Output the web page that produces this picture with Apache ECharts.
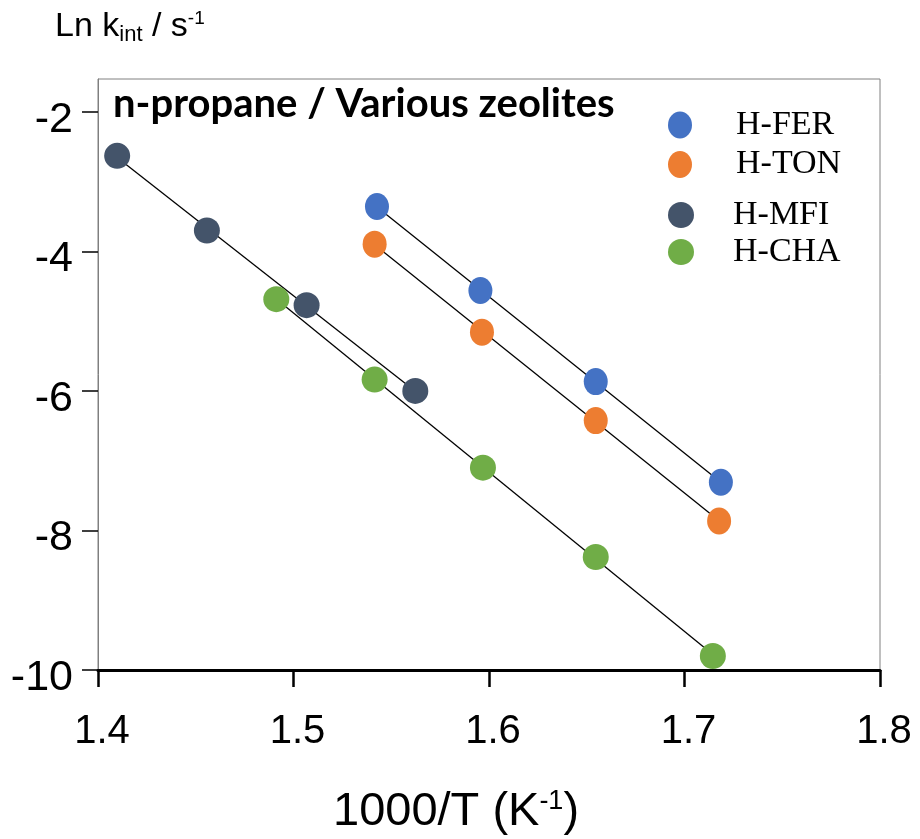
<!DOCTYPE html>
<html>
<head>
<meta charset="utf-8">
<script src="https://cdn.jsdelivr.net/npm/echarts@6/dist/echarts.min.js"></script>
<style>html,body{margin:0;padding:0;background:#fff}#c{width:920px;height:839px}</style>
</head>
<body>
<div id="c"></div>
<script>
// Data
const seriesNames = ['H-FER', 'H-TON', 'H-MFI', 'H-CHA'];
const xFER = [1.5427, 1.5956, 1.6546, 1.7186];
const yFER = [-3.358, -4.562, -5.867, -7.309];
const xTON = [1.5415, 1.5964, 1.6546, 1.7177];
const yTON = [-3.897, -5.158, -6.426, -7.864];
const xMFI = [1.4098, 1.4557, 1.5067, 1.5623];
const yMFI = [-2.631, -3.702, -4.771, -6.0];
const xCHA = [1.4912, 1.5415, 1.5969, 1.6546, 1.7145];
const yCHA = [-4.685, -5.838, -7.1, -8.38, -9.799];
const yTicks = [-10, -8, -6, -4, -2];

const colors = {'H-FER': '#4472C4', 'H-TON': '#ED7D31', 'H-MFI': '#44546A', 'H-CHA': '#70AD47'};
const ellipse = 'path://M0,13.5A12,13.5 0 1,1 24,13.5A12,13.5 0 1,1 0,13.5Z';

function pairs(xs, ys) { return xs.map((x, i) => [x, ys[i]]); }
function fit(xs, ys) {
  const n = xs.length;
  const mx = xs.reduce((a, b) => a + b, 0) / n;
  const my = ys.reduce((a, b) => a + b, 0) / n;
  let sxy = 0, sxx = 0;
  for (let i = 0; i < n; i++) { sxy += (xs[i] - mx) * (ys[i] - my); sxx += (xs[i] - mx) * (xs[i] - mx); }
  const b = sxy / sxx, a = my - b * mx;
  const x0 = Math.min(...xs), x1 = Math.max(...xs);
  return [[x0, a + b * x0], [x1, a + b * x1]];
}

const sets = [
  {name: 'H-FER', xs: xFER, ys: yFER, symbol: ellipse, size: [24, 27]},
  {name: 'H-TON', xs: xTON, ys: yTON, symbol: ellipse, size: [24, 27]},
  {name: 'H-MFI', xs: xMFI, ys: yMFI, symbol: 'circle', size: 26},
  {name: 'H-CHA', xs: xCHA, ys: yCHA, symbol: 'circle', size: 26}
];

const series = [];
sets.forEach(s => {
  series.push({
    type: 'line', name: s.name + ' fit', data: fit(s.xs, s.ys), symbol: 'none', silent: true,
    lineStyle: {color: '#000', width: 1.3}, z: 2, animation: false
  });
});
sets.forEach(s => {
  series.push({
    type: 'scatter', name: s.name, data: pairs(s.xs, s.ys), symbol: s.symbol, symbolSize: s.size,
    itemStyle: {color: colors[s.name], opacity: 1}, z: 3, animation: false
  });
});

const legendTops = [108, 147.5, 198, 235];
const legendPad = [39, 39, 34, 34];
const legends = seriesNames.map((n, i) => ({
  data: [{name: n, icon: i < 2 ? ellipse : 'circle'}],
  orient: 'vertical', left: 668, top: legendTops[i], padding: 0,
  itemWidth: i < 2 ? 24 : 26, itemHeight: i < 2 ? 27 : 26,
  selectedMode: false,
  textStyle: {fontFamily: 'Liberation Serif', fontSize: 34, color: '#000', lineHeight: 27, padding: [0, 0, 0, legendPad[i]]}
}));

const norm = {fontFamily: 'Liberation Sans', fontWeight: 'normal', color: '#000'};
const chart = echarts.init(document.getElementById('c'), null, {renderer: 'canvas'});
chart.setOption({
  animation: false,
  backgroundColor: '#fff',
  grid: {left: 98, right: 40, top: 79, bottom: 169, show: true, borderColor: '#808080', borderWidth: 1},
  title: [
    {text: '{a|Ln k}{b|int}{a| / s}{c|-1}', left: 55, top: 8, padding: 0,
     textStyle: {fontWeight: 'normal', rich: {
       a: Object.assign({fontSize: 34}, norm),
       b: Object.assign({fontSize: 22, padding: [16, 0, 0, 0]}, norm),
       c: Object.assign({fontSize: 19, padding: [0, 0, 16, 0]}, norm)
     }}},
    {text: 'n-propane / Various zeolites', left: 113, top: 84, padding: 0,
     textStyle: {fontFamily: 'Lato', fontWeight: 'bold', fontSize: 40, color: '#000'}},
    {text: '{a|1000/T (K}{c|-1}{a|)}', left: 333, top: 788, padding: 0,
     textStyle: {fontWeight: 'normal', rich: {
       a: Object.assign({fontSize: 47}, norm),
       c: Object.assign({fontSize: 27, padding: [0, 0, 22, 0]}, norm)
     }}}
  ],
  legend: legends,
  xAxis: {
    type: 'value', min: 1.4, max: 1.8, interval: 0.1,
    axisLine: {show: true, lineStyle: {color: '#000', width: 3}},
    axisTick: {show: true, inside: false, length: 17, lineStyle: {color: '#000', width: 2.5}},
    axisLabel: {color: '#000', fontFamily: 'Liberation Sans', fontSize: 40, margin: 42,
      padding: [0, 0, 0, 8], formatter: v => v.toFixed(1)},
    splitLine: {show: false}
  },
  yAxis: {
    type: 'value', min: -10, max: -1.53, interval: 2,
    axisLine: {show: true, lineStyle: {color: '#7f7f7f', width: 1}},
    axisTick: {show: true, inside: false, length: 16, customValues: yTicks, lineStyle: {color: '#000', width: 1.5}},
    axisLabel: {color: '#000', margin: 25, customValues: yTicks,
      formatter: v => '{a|' + v + '}',
      rich: {a: {fontFamily: 'Liberation Sans', fontSize: 43, color: '#000', padding: [16, 0, 0, 0]}}},
    splitLine: {show: false}
  },
  series: series
});
</script>
</body>
</html>
